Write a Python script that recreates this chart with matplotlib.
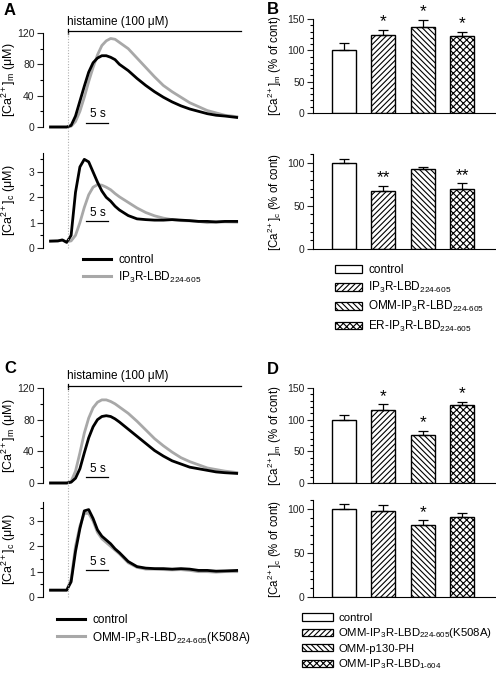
import numpy as np
import matplotlib
matplotlib.use('Agg')
import matplotlib.pyplot as plt
from matplotlib.ticker import AutoMinorLocator, MultipleLocator
from matplotlib.lines import Line2D
from matplotlib.patches import Patch
from matplotlib.transforms import blended_transform_factory

plt.rcParams['font.family'] = ['Liberation Sans', 'DejaVu Sans']
plt.rcParams['mathtext.fontset'] = 'custom'
plt.rcParams['mathtext.rm'] = 'Liberation Sans'
plt.rcParams['mathtext.it'] = 'Liberation Sans:italic'
plt.rcParams['mathtext.bf'] = 'Liberation Sans:bold'
plt.rcParams['mathtext.default'] = 'regular'
plt.rcParams['hatch.linewidth'] = 0.8

# ---- traces (time in s) ----
t = [0, 2, 3, 4, 5, 6, 7, 8, 9, 10, 11, 12, 13, 14, 15, 16, 18, 20, 22, 24, 26, 28, 30, 32, 34, 36, 38, 40, 43]
t_hist = 4.3

a_mito_ctrl = [0, 0, 0, 0, 2, 14, 33, 52, 70, 82, 88, 91, 91, 89, 86, 80, 72, 62, 53, 45, 38, 32, 27, 23, 20, 17, 15, 14, 12]
a_mito_lbd = [0, 0, 0, 0, 1, 7, 20, 38, 58, 76, 92, 104, 110, 113, 112, 108, 100, 88, 76, 64, 53, 45, 38, 31, 26, 21, 18, 15, 13]
a_cyt_ctrl = [0.27, 0.28, 0.32, 0.22, 0.5, 2.2, 3.2, 3.5, 3.4, 3.0, 2.6, 2.25, 2.0, 1.85, 1.65, 1.5, 1.28, 1.15, 1.12, 1.1, 1.1, 1.12, 1.1, 1.08, 1.05, 1.05, 1.03, 1.05, 1.05]
a_cyt_lbd = [0.27, 0.28, 0.3, 0.25, 0.28, 0.5, 1.0, 1.6, 2.1, 2.4, 2.5, 2.48, 2.4, 2.3, 2.15, 2.02, 1.8, 1.58, 1.4, 1.27, 1.18, 1.12, 1.08, 1.07, 1.05, 1.0, 1.02, 1.03, 1.02]

c_mito_ctrl = [0, 0, 0, 0, 1, 6, 18, 38, 57, 71, 80, 84, 85, 84, 81, 77, 68, 59, 50, 41, 34, 28, 24, 20, 18, 16, 14, 13, 12]
c_mito_mut = [0, 0, 0, 0, 2, 15, 38, 63, 82, 95, 102, 105, 105, 103, 100, 96, 88, 78, 67, 56, 47, 39, 32, 27, 23, 19, 17, 15, 13]
c_cyt_ctrl = [0.27, 0.27, 0.27, 0.27, 0.6, 1.8, 2.7, 3.4, 3.45, 3.1, 2.65, 2.4, 2.25, 2.1, 1.9, 1.75, 1.4, 1.2, 1.14, 1.12, 1.12, 1.1, 1.12, 1.1, 1.05, 1.05, 1.02, 1.03, 1.05]
c_cyt_mut = [0.27, 0.27, 0.27, 0.27, 0.7, 2.0, 2.8, 3.3, 3.3, 3.0, 2.55, 2.3, 2.15, 2.0, 1.85, 1.7, 1.35, 1.17, 1.1, 1.1, 1.08, 1.07, 1.08, 1.05, 1.0, 1.0, 0.98, 1.0, 1.0]

# ---- bars (% of control) ----
b_mito = [100, 124, 137, 123]
b_mito_err = [11, 9, 12, 7]
b_mito_sig = ['', '*', '*', '*']
b_cyt = [100, 67, 93, 69]
b_cyt_err = [4, 6, 2, 7]
b_cyt_sig = ['', '**', '', '**']
b_labels = ['control', r'IP$_3$R-LBD$_{224\text{-}605}$',
            r'OMM-IP$_3$R-LBD$_{224\text{-}605}$', r'ER-IP$_3$R-LBD$_{224\text{-}605}$']

d_mito = [100, 116, 76, 123]
d_mito_err = [7, 8, 6, 5]
d_mito_sig = ['', '*', '*', '*']
d_cyt = [100, 97, 82, 91]
d_cyt_err = [5, 7, 5, 4]
d_cyt_sig = ['', '', '*', '']
d_labels = ['control', r'OMM-IP$_3$R-LBD$_{224\text{-}605}$(K508A)',
            'OMM-p130-PH', r'OMM-IP$_3$R-LBD$_{1\text{-}604}$']

hatches = ['', '//////', '\\\\\\\\\\\\', 'xxxxx']

W, H = 496, 677
fig = plt.figure(figsize=(W / 100, H / 100), dpi=100)


def box(x0, x1, ytop, ybot):
    return [x0 / W, 1 - ybot / H, (x1 - x0) / W, (ybot - ytop) / H]


GREY = '#a8a8a8'
LEG_FS = 8.5
mito_lab = r'[Ca$^{2+}$]$_m$ (μM)'
cyt_lab = r'[Ca$^{2+}$]$_c$ (μM)'


def trace_ax(rect, y1, y2, ylim, major, lab, bar_y):
    ax = fig.add_axes(rect)
    ax.plot(t, y2, color=GREY, lw=2.0, clip_on=False, solid_capstyle='butt')
    ax.plot(t, y1, color='black', lw=2.0, clip_on=False, solid_capstyle='butt')
    ax.set_xlim(-1.4, 43.9)
    ax.set_ylim(*ylim)
    for s in ['top', 'right', 'bottom']:
        ax.spines[s].set_visible(False)
    ax.spines['left'].set_linewidth(0.8)
    ax.set_xticks([])
    ax.yaxis.set_major_locator(MultipleLocator(major))
    ax.yaxis.set_minor_locator(AutoMinorLocator(2))
    ax.tick_params(axis='y', which='major', length=4, width=0.8, labelsize=7.5, pad=2, colors='#222222')
    ax.tick_params(axis='y', which='minor', length=2, width=0.8)
    ax.set_ylabel(lab, fontsize=9)
    ax.yaxis.set_label_coords(-0.125, 0.5)
    # 5 s scale bar
    ax.plot([8.5, 13.5], [bar_y, bar_y], color='black', lw=0.9)
    ax.text(11.0, bar_y + (ylim[1] - ylim[0]) * 0.03, '5 s', ha='center', va='bottom', fontsize=8.5)
    return ax


def histamine(ax):
    ax.plot([t_hist, 43.6], [122, 122], color='black', lw=0.9, clip_on=False)
    ax.plot([t_hist, t_hist], [119, 125], color='black', lw=0.9, clip_on=False)
    ax.text(t_hist - 0.3, 127, 'histamine (100 μM)', ha='left', va='bottom', fontsize=8.5)


def dotted(ax_top, ax_bot):
    tr = blended_transform_factory(ax_top.transData, fig.transFigure)
    y0 = ax_bot.get_position().y0
    y1 = ax_top.get_position().y1
    fig.add_artist(Line2D([t_hist, t_hist], [y0, y1], transform=tr, color='#b0b0b0',
                          lw=0.8, ls=(0, (1, 1.5))))


def bar_ax(rect, vals, errs, sig, ylim, lab):
    ax = fig.add_axes(rect)
    x = np.arange(1, 5)
    bars = ax.bar(x, vals, width=0.61, color='white', edgecolor='black', linewidth=1.0, zorder=2)
    for b, h in zip(bars, hatches):
        b.set_hatch(h)
    ax.errorbar(x, vals, yerr=[np.zeros(4), errs], fmt='none', ecolor='black',
                elinewidth=0.9, capsize=3.5, capthick=0.9, zorder=3)
    for xi, v, e, s in zip(x, vals, errs, sig):
        if s:
            ax.text(xi, v + e + ylim[1] * 0.005, s, ha='center', va='bottom', fontsize=12.5)
    ax.set_xlim(0.215, 4.835)
    ax.set_ylim(*ylim)
    ax.spines['top'].set_visible(False)
    ax.spines['right'].set_visible(False)
    ax.spines['left'].set_linewidth(0.8)
    ax.spines['bottom'].set_linewidth(0.8)
    ax.set_xticks([])
    ax.yaxis.set_major_locator(MultipleLocator(50))
    ax.yaxis.set_minor_locator(AutoMinorLocator(5))
    ax.tick_params(axis='y', which='major', length=4, width=0.8, labelsize=7.5, pad=2, colors='#222222')
    ax.tick_params(axis='y', which='minor', length=2, width=0.8)
    ax.set_ylabel(lab, fontsize=8.3)
    ax.yaxis.set_label_coords(-0.16, 0.5)
    return ax


def line_legend(ax, labels, x, y):
    ax.legend(handles=[Line2D([], [], color='black', lw=2.2), Line2D([], [], color=GREY, lw=2.2)],
              labels=labels, frameon=False, fontsize=LEG_FS,
              handlelength=2.4, handletextpad=0.6, labelspacing=0.3, borderpad=0, borderaxespad=0,
              loc='upper left', bbox_to_anchor=(x / W, 1 - y / H), bbox_transform=fig.transFigure)


def bar_legend(ax, labels, x, y, hl, ls, fs):
    hs = [Patch(facecolor='white', edgecolor='black', hatch=h, linewidth=0.9) for h in hatches]
    ax.legend(handles=hs, labels=labels, frameon=False, fontsize=fs,
              handlelength=hl, handleheight=0.6, handletextpad=0.5, labelspacing=ls,
              borderpad=0, borderaxespad=0,
              loc='upper left', bbox_to_anchor=(x / W, 1 - y / H), bbox_transform=fig.transFigure)


# ---- panel A ----
axA1 = trace_ax(box(43, 242, 33, 127), a_mito_ctrl, a_mito_lbd, (0, 120), 40, mito_lab, 5)
histamine(axA1)
axA2 = trace_ax(box(43, 242, 153, 248), a_cyt_ctrl, a_cyt_lbd, (0, 3.75), 1, cyt_lab, 1.05)
dotted(axA1, axA2)
line_legend(axA2, ['control', r'IP$_3$R-LBD$_{224\text{-}605}$'], 83, 254)

# ---- panel C ----
axC1 = trace_ax(box(43, 242, 388, 483), c_mito_ctrl, c_mito_mut, (0, 120), 40, mito_lab, 7)
histamine(axC1)
axC2 = trace_ax(box(43, 242, 502, 597), c_cyt_ctrl, c_cyt_mut, (0, 3.75), 1, cyt_lab, 1.05)
dotted(axC1, axC2)
line_legend(axC2, ['control', r'OMM-IP$_3$R-LBD$_{224\text{-}605}$(K508A)'], 57, 614)

# ---- panel B ----
pct_m = r'[Ca$^{2+}$]$_m$ (% of cont)'
pct_c = r'[Ca$^{2+}$]$_c$ (% of cont)'
axB1 = bar_ax(box(313, 495, 19, 113), b_mito, b_mito_err, b_mito_sig, (0, 150), pct_m)
axB2 = bar_ax(box(313, 495, 154, 249), b_cyt, b_cyt_err, b_cyt_sig, (0, 110), pct_c)
bar_legend(axB2, b_labels, 335, 264, 2.3, 0.35, LEG_FS)

# ---- panel D ----
axD1 = bar_ax(box(313, 495, 388, 483), d_mito, d_mito_err, d_mito_sig, (0, 150), pct_m)
axD2 = bar_ax(box(313, 495, 500, 597), d_cyt, d_cyt_err, d_cyt_sig, (0, 110), pct_c)
bar_legend(axD2, d_labels, 302, 613, 2.7, 0.3, 8.2)

# panel letters
for letter, x, y in [('A', 4, 3), ('B', 267, 2), ('C', 4, 361), ('D', 267, 362)]:
    fig.text(x / W, 1 - y / H, letter, fontsize=12, fontweight='bold', ha='left', va='top')

fig.savefig('out.png', dpi=100)
